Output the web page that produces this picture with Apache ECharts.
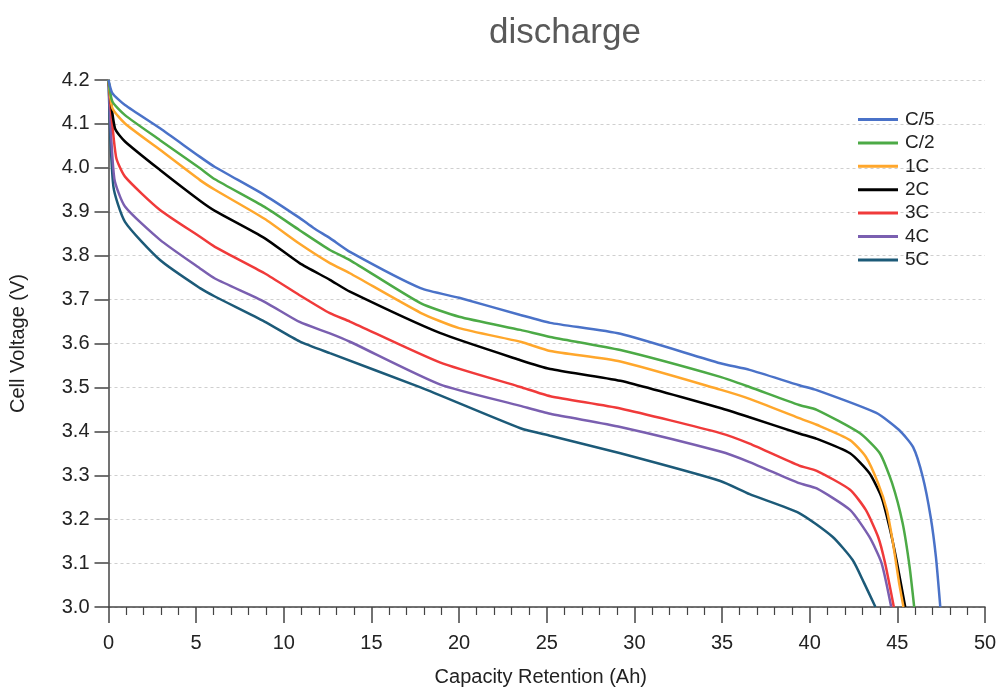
<!DOCTYPE html>
<html>
<head>
<meta charset="utf-8">
<script src="https://cdn.jsdelivr.net/npm/echarts@6/dist/echarts.min.js"></script>
<style>
  html, body { margin: 0; padding: 0; background: #fff; }
  #chart { width: 1001px; height: 687px; }
</style>
</head>
<body>
<div id="chart"></div>
<script>
// discharge curves, [capacity Ah, voltage V]
const rateNames = ['C/5', 'C/2', '1C', '2C', '3C', '4C', '5C'];
const rateColors = ['#4a72c8', '#4caa46', '#ffa72c', '#000000', '#f03a3a', '#7a5fb0', '#1c5a78'];

const curveC5 = [[0,4.2],[0.22,4.17],[0.94,4.143],[2.94,4.09],[5.22,4.025],[6.07,4.002],[8.9,3.938],[10.9,3.886],[11.7,3.863],[12.63,3.84],[13.8,3.808],[17.8,3.726],[20,3.704],[23.5,3.665],[25.2,3.647],[29.2,3.622],[34.9,3.555],[36.57,3.54],[39.4,3.505],[40.4,3.494],[43.8,3.442],[45.1,3.403],[45.9,3.364],[46.45,3.296],[46.9,3.205],[47.2,3.114],[47.45,3.0]];
const curveC2 = [[0,4.2],[0.22,4.151],[0.94,4.12],[2.94,4.063],[5.22,3.999],[6.07,3.974],[8.9,3.911],[10.9,3.858],[12.63,3.813],[13.77,3.79],[17.8,3.692],[20,3.661],[23.5,3.631],[25.2,3.615],[29.2,3.585],[34.9,3.524],[36.57,3.501],[39.4,3.46],[40.4,3.449],[42.85,3.396],[44.0,3.35],[44.7,3.282],[45.3,3.191],[45.7,3.091],[45.96,3.0]];
const curve1C = [[0,4.2],[0.22,4.136],[0.94,4.101],[2.94,4.041],[5.22,3.972],[6.07,3.95],[8.9,3.884],[10.9,3.827],[12.63,3.783],[13.77,3.76],[17.8,3.67],[20,3.635],[23.5,3.604],[25.2,3.583],[29.2,3.559],[34.9,3.495],[36.57,3.474],[39.4,3.43],[40.4,3.415],[42.3,3.38],[43.2,3.342],[43.9,3.282],[44.4,3.221],[44.75,3.146],[45.1,3.055],[45.35,3.0]];
const curve2C = [[0,4.2],[0.37,4.09],[0.94,4.06],[2.94,3.995],[5.22,3.925],[6.07,3.902],[8.9,3.84],[10.9,3.783],[12.63,3.745],[13.77,3.718],[18.9,3.624],[23.5,3.562],[25.2,3.542],[29.2,3.515],[34.9,3.453],[36.57,3.432],[39.4,3.395],[40.4,3.383],[42.3,3.35],[43.4,3.305],[44.1,3.25],[44.55,3.182],[44.95,3.107],[45.45,3.0]];
const curve3C = [[0,4.2],[0.43,4.025],[0.94,3.98],[2.94,3.904],[5.22,3.843],[6.07,3.82],[8.9,3.76],[10.9,3.71],[12.63,3.669],[13.77,3.65],[18.9,3.557],[23.5,3.501],[25.2,3.48],[29.2,3.452],[34.9,3.396],[36.57,3.372],[39.4,3.322],[40.4,3.31],[42.3,3.267],[43.2,3.221],[43.9,3.16],[44.3,3.1],[44.8,3.0]];
const curve4C = [[0,4.2],[0.33,3.976],[0.94,3.912],[2.94,3.836],[5.22,3.771],[6.07,3.748],[8.9,3.695],[10.9,3.649],[12.63,3.623],[13.77,3.604],[18.9,3.507],[23.5,3.458],[25.2,3.44],[29.2,3.41],[34.9,3.354],[36.57,3.33],[39.4,3.282],[40.4,3.27],[42.3,3.221],[43.4,3.16],[44.1,3.1],[44.65,3.0]];
const curve5C = [[0,4.2],[0.28,3.957],[0.94,3.877],[2.94,3.79],[5.22,3.726],[6.07,3.707],[8.9,3.65],[10.9,3.605],[12.63,3.578],[17.8,3.5],[23.5,3.407],[25.2,3.39],[29.2,3.35],[34.9,3.287],[36.57,3.257],[39.4,3.214],[41.3,3.16],[42.45,3.107],[43.1,3.055],[43.75,3.0]];

const curves = [curveC5, curveC2, curve1C, curve2C, curve3C, curve4C, curve5C];

const font = '"Liberation Sans", Arial, sans-serif';
const chart = echarts.init(document.getElementById('chart'));

chart.setOption({
  backgroundColor: '#fff',
  animation: false,
  title: {
    text: 'discharge',
    left: 560,
    top: 11,
    textAlign: 'center',
    textStyle: { fontFamily: font, fontSize: 35, fontWeight: 'normal', color: '#595959' }
  },
  legend: {
    orient: 'vertical',
    left: 853,
    top: 105,
    itemWidth: 40,
    itemHeight: 3,
    itemGap: 4.4,
    icon: 'rect',
    data: rateNames,
    textStyle: { fontFamily: font, fontSize: 19, color: '#222', padding: [0, 0, 0, 2] }
  },
  grid: { left: 108.5, right: 16, top: 80, bottom: 80, outerBoundsMode: 'none', containLabel: false },
  xAxis: {
    type: 'value',
    min: 0, max: 50, interval: 5,
    name: 'Capacity Retention (Ah)',
    nameLocation: 'middle',
    nameGap: 60,
    nameTextStyle: { fontFamily: font, fontSize: 20, color: '#222', padding: [0, 12, 0, 0] },
    axisLine: { lineStyle: { color: '#444', width: 1.5 } },
    axisTick: { show: true, length: 16, lineStyle: { color: '#444', width: 1.5 } },
    minorTick: { show: true, splitNumber: 5, length: 8, lineStyle: { color: '#444', width: 1.2 } },
    axisLabel: { fontFamily: font, fontSize: 20, color: '#222', margin: 26 },
    splitLine: { show: false }
  },
  yAxis: {
    type: 'value',
    min: 3.0, max: 4.2, interval: 0.1,
    name: 'Cell Voltage (V)',
    nameLocation: 'middle',
    nameGap: 80,
    nameTextStyle: { fontFamily: font, fontSize: 20, color: '#222' },
    axisLine: { show: true, lineStyle: { color: '#444', width: 1.5 } },
    axisTick: { show: true, length: 14, lineStyle: { color: '#444', width: 1.5 } },
    axisLabel: {
      fontFamily: font, fontSize: 20, color: '#222', margin: 19,
      formatter: v => v.toFixed(1)
    },
    splitLine: { show: true, lineStyle: { color: '#cfcfcf', type: [3, 3], width: 1 } }
  },
  series: curves.map((d, i) => ({
    name: rateNames[i],
    type: 'line',
    data: d,
    showSymbol: false,
    smooth: 0.2,
    color: rateColors[i],
    lineStyle: { width: 2.5, color: rateColors[i] },
    z: 10 - i
  }))
});
</script>
</body>
</html>
